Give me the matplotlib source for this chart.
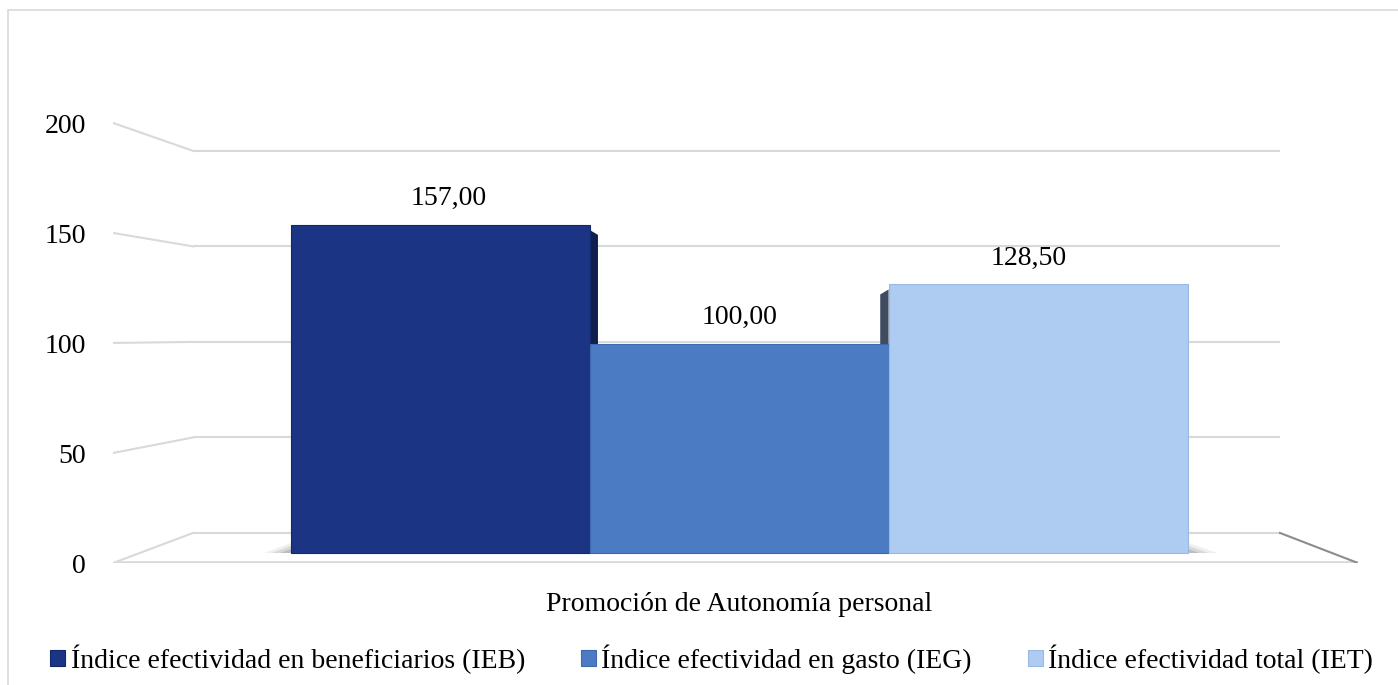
#3D-style column chart: indices de efectividad
import numpy as np
import matplotlib
matplotlib.use("Agg")
import matplotlib.pyplot as plt
from matplotlib.patches import Rectangle, Polygon

plt.rcParams['font.family'] = ['Liberation Serif', 'DejaVu Serif']
plt.rcParams['font.size'] = 20

#data
category = 'Promoción de Autonomía personal'
series = ['Índice efectividad en beneficiarios (IEB)',
          'Índice efectividad en gasto (IEG)',
          'Índice efectividad total (IET)']
values = [157.00, 100.00, 128.50]
yticks = [0, 50, 100, 150, 200]

colors = ['#1b3584', '#4a7bc3', '#aecbf1']
edges = ['#13286a', '#3d6aae', '#9ab9e2']
sides = ['#0f2050', '#2f5590', '#3f4c60']
grid_col = '#d9d9d9'

fig = plt.figure(figsize=(13.98, 6.85), dpi=100)
fig.patch.set_facecolor('white')
ax = fig.add_axes([113/1398, 122/685, 1245/1398, 463/685])
xl = (-2.094, 2.070)
yl = (-4.785, 216.75)
ax.set_xlim(*xl)
ax.set_ylim(*yl)
for s in ax.spines.values():
    s.set_visible(False)

#perspective of the walls (in bar-plane data units)
front_y0, front_k = -4.8, 1.053
back_y0, back_k = 9.6, 0.914
back_left, back_right = -1.826, 1.809
def yf(v):
    return front_y0 + front_k*v
def yb(v):
    return back_y0 + back_k*v

#gridlines on back wall + perspective lines on the left wall
for v in yticks:
    ax.plot([back_left, back_right], [yb(v), yb(v)], color=grid_col, lw=1.5, zorder=1, solid_capstyle='butt')
    ax.plot([xl[0], back_left], [yf(v), yb(v)], color=grid_col, lw=1.5, zorder=1)
    ax.text(-2.184, yf(v) - 1.6, str(v), ha='right', va='center', clip_on=False)
#floor
ax.plot([xl[0] + 0.02, xl[1]], [yf(0), yf(0)], color=grid_col, lw=2.6, zorder=1)
ax.plot([back_right, xl[1]], [yb(0), yf(0)], color='#8c8c8c', lw=1.5, zorder=1)

pos = np.arange(len(values)) - 1.0
width = 1.0
#side faces of the outer columns
dx, dy = 0.028, 4.8
for i in [0, 2]:
    v = values[i]
    e = pos[i] + width/2 if i == 0 else pos[i] - width/2
    d = dx if i == 0 else -dx
    ax.add_patch(Polygon([(e, 0), (e, v - dy/2), (e + d, v - dy), (e + d, 0)],
                         closed=True, fc=sides[i], ec='none', zorder=2))
#soft shadows at the base
for k, a in enumerate([0.12, 0.2, 0.3]):
    s = 1 - k*0.3
    ax.add_patch(Polygon([(pos[0] - width/2 - 0.09*s, 0), (pos[0] - width/2, 0), (pos[0] - width/2, 5*s)],
                         closed=True, fc='#808080', ec='none', alpha=a, zorder=2))
    ax.add_patch(Polygon([(pos[2] + width/2, 0), (pos[2] + width/2 + 0.1*s, 0), (pos[2] + width/2, 5*s)],
                         closed=True, fc='#808080', ec='none', alpha=a, zorder=2))

bars = []
for i in range(len(values)):
    b = ax.bar(pos[i], values[i], width=width, color=colors[i], edgecolor=edges[i],
               linewidth=0.8, zorder=3, label=series[i])
    bars.append(b)
    lab = ('%.2f' % values[i]).replace('.', ',')
    ax.annotate(lab, xy=(pos[i], values[i]), xytext=(-9*pos[i]*0.72, 19),
                textcoords='offset points', ha='center', va='center', zorder=4)

ax.set_xticks([0])
ax.set_xticklabels([category])
ax.tick_params(axis='x', length=0, pad=21)
ax.set_yticks([])

fig.legend(handles=[b[0] for b in bars], labels=series, loc='center',
           bbox_to_anchor=(0.509, 0.038), ncol=3, frameon=False,
           handlelength=0.55, handleheight=0.55, handletextpad=0.2,
           columnspacing=2.0, borderaxespad=0)

#outer chart frame
fig.patches.append(Rectangle((8/1398, -0.1), 2, 0.1 + 675/685, transform=fig.transFigure,
                             fill=False, ec=grid_col, lw=1.2))

fig.savefig('out.png', dpi=100, facecolor='white')
